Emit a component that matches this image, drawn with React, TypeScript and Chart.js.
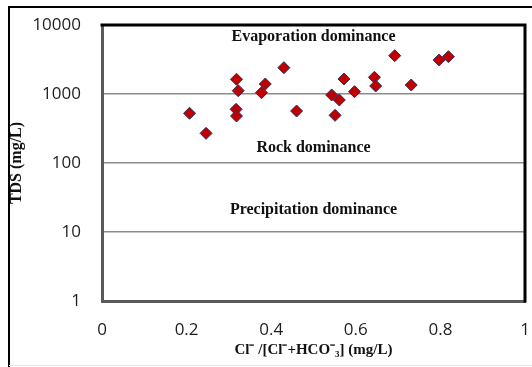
import React, { useEffect, useRef } from "react";
import { Chart, registerables } from "chart.js";

Chart.register(...registerables);

// Data
const ratio = [0.207, 0.246, 0.318, 0.322, 0.317, 0.318, 0.43, 0.386, 0.377, 0.46, 0.692, 0.797, 0.819, 0.572, 0.644, 0.647, 0.731, 0.543, 0.561, 0.597, 0.551];
const tds = [525, 269, 1633, 1117, 600, 480, 2405, 1396, 1045, 567, 3590, 3110, 3475, 1650, 1746, 1306, 1350, 968, 819, 1081, 491];

const yTicks = [1, 10, 100, 1000, 10000];
const xTicks = [0, 0.2, 0.4, 0.6, 0.8, 1];

const zoneLabels = ["Evaporation dominance", "Rock dominance", "Precipitation dominance"];
const zoneX = [0.5, 0.5, 0.5];
const zoneY = [6700, 165, 21];

const yTitle = "TDS (mg/L)";
const xTitle = "Cl\u207B /[Cl\u207B+HCO\u207B\u2083] (mg/L)";

export default function App() {
  const ref = useRef<HTMLCanvasElement | null>(null);

  useEffect(() => {
    if (!ref.current) return;
    const frame = {
      id: "frame",
      beforeDraw(chart: any) {
        const ctx = chart.ctx;
        ctx.save();
        ctx.fillStyle = "#ffffff";
        ctx.fillRect(0, 0, chart.width, chart.height);
        ctx.strokeStyle = "#000000";
        ctx.lineWidth = 2;
        ctx.beginPath();
        ctx.moveTo(9, 367);
        ctx.lineTo(9, 7);
        ctx.lineTo(chart.width, 7);
        ctx.stroke();
        ctx.strokeStyle = "#e6e6e6";
        ctx.lineWidth = 1;
        ctx.beginPath();
        ctx.moveTo(9, 365.5);
        ctx.lineTo(chart.width, 365.5);
        ctx.stroke();
        ctx.restore();
      },
      afterDraw(chart: any) {
        const ctx = chart.ctx;
        const a = chart.chartArea;
        ctx.save();
        ctx.strokeStyle = "#000000";
        ctx.lineWidth = 3;
        ctx.beginPath();
        ctx.moveTo(a.left - 1.5, a.top);
        ctx.lineTo(a.right, a.top);
        ctx.lineTo(a.right, a.bottom + 1.5);
        ctx.stroke();
        const xs = chart.scales.x;
        const ys = chart.scales.y;
        ctx.fillStyle = "#111111";
        ctx.font = "bold 16px 'Liberation Serif'";
        ctx.textAlign = "center";
        ctx.textBaseline = "middle";
        zoneLabels.forEach((t, i) => {
          ctx.fillText(t, xs.getPixelForValue(zoneX[i]), ys.getPixelForValue(zoneY[i]));
        });
        ctx.restore();
      },
    };

    const chart = new Chart(ref.current, {
      type: "scatter",
      data: {
        datasets: [
          {
            label: "TDS",
            data: ratio.map((r, i) => ({ x: r, y: tds[i] })),
            pointStyle: "rectRot",
            pointRadius: 6,
            pointBackgroundColor: "#C00000",
            pointBorderColor: "#2e2e5c",
            pointBorderWidth: 1,
          },
        ],
      },
      options: {
        responsive: false,
        animation: false,
        events: [],
        layout: { padding: { top: 25, right: 2, left: 0, bottom: 0 } },
        plugins: { legend: { display: false }, tooltip: { enabled: false } },
        scales: {
          x: {
            type: "linear",
            min: 0,
            max: 1,
            afterBuildTicks: (s: any) => {
              s.ticks = xTicks.map((v) => ({ value: v }));
            },
            afterFit: (s: any) => {
              s.height = 66;
              s.paddingLeft = 0;
              s.paddingRight = 0;
            },
            ticks: {
              padding: 11,
              color: "#1e1e1e",
              font: { family: "'Open Sans'", size: 17 },
              maxRotation: 0,
              autoSkip: false,
              callback: (v: any) => String(v),
            },
            grid: { display: false },
            border: { display: true, color: "#5a5a5a", width: 3 },
            title: {
              display: true,
              text: xTitle,
              color: "#111111",
              font: { family: "'Liberation Serif'", size: 15, weight: "bold" },
              padding: { top: 0, bottom: 8 },
            },
          },
          y: {
            type: "logarithmic",
            min: 1,
            max: 10000,
            afterBuildTicks: (s: any) => {
              s.ticks = yTicks.map((v) => ({ value: v }));
            },
            afterFit: (s: any) => {
              s.width = 102;
              s.paddingTop = 0;
              s.paddingBottom = 0;
            },
            ticks: {
              padding: 21,
              color: "#1e1e1e",
              font: { family: "'Open Sans'", size: 17 },
              autoSkip: false,
              callback: (v: any) => String(v),
            },
            grid: {
              drawTicks: false,
              color: (c: any) => (c.tick && (c.tick.value === 1 || c.tick.value === 10000) ? "rgba(0,0,0,0)" : "#8c8c8c"),
              lineWidth: 1.5,
            },
            border: { display: true, color: "#5a5a5a", width: 3 },
            title: {
              display: true,
              text: yTitle,
              color: "#111111",
              font: { family: "'Liberation Serif'", size: 16, weight: "bold" },
              padding: { top: 7, bottom: 0 },
            },
          },
        },
      },
      plugins: [frame],
    } as any);
    return () => chart.destroy();
  }, []);

  return (
    <div style={{ position: "fixed", left: 0, top: 0, width: 532, height: 367 }}>
      <canvas ref={ref} width={532} height={367} style={{ width: 532, height: 367 }} />
    </div>
  );
}
